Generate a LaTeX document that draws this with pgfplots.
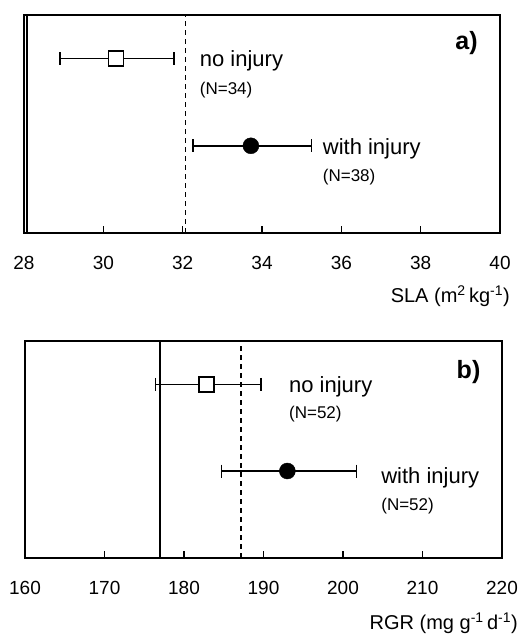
\documentclass[border=0pt]{standalone}
\usepackage{pgfplots}
\pgfplotsset{compat=1.18}
\usepackage{fontspec}
\setmainfont{Liberation Sans}
\tikzset{
  lab/.style={anchor=base west, inner sep=0pt, font=\fontsize{22}{26}\selectfont},
  nlab/.style={anchor=base west, inner sep=0pt, font=\fontsize{17}{20}\selectfont},
}
\begin{document}
\begin{tikzpicture}
\useasboundingbox (0pt,0pt) rectangle (521pt,637pt);
\pgfplotsset{
  panel/.style={
    scale only axis, anchor=south west,
    axis line style={line width=1.8pt},
    ymin=0, ymax=1, ytick=\empty,
    xtick pos=bottom, tick align=inside,
    major tick length=7pt,
    every tick/.style={line width=1.5pt, black},
    xticklabel style={font=\fontsize{19}{22}\selectfont, yshift=-20pt},
    /pgf/number format/assume math mode=true,
    clip=false,
  },
  eb/.style={line width=1.6pt, black, mark=|, mark size=6.5pt, mark options={line width=1.6pt, solid}},
}
% Panel a
\begin{axis}[panel, name=a, at={(24pt,404pt)}, width=476pt, height=218pt,
  xmin=28, xmax=40, xtick={28,30,...,40}]
\addplot[line width=1.5pt, black] coordinates {(28.08,0) (28.08,1)};
\addplot[line width=1.6pt, black, dash pattern=on 5pt off 4pt] coordinates {(32.07,0) (32.07,1)};
\addplot[eb] coordinates {(28.90,0.8) (31.78,0.8)};
\addplot[eb] coordinates {(32.26,0.4) (35.25,0.4)};
\addplot[only marks, mark=square*, mark size=7.5pt, mark options={fill=white, draw=black, line width=1.5pt, solid}]
  coordinates {(30.32,0.8)};
\addplot[only marks, mark=*, mark size=8pt, mark options={fill=black, draw=black, solid}]
  coordinates {(33.72,0.4)};
\node[lab] at (axis cs:32.43,0.763) {no injury};
\node[nlab] at (axis cs:32.43,0.633) {(N=34)};
\node[lab] at (axis cs:35.53,0.358) {with injury};
\node[nlab] at (axis cs:35.53,0.235) {(N=38)};
\node[anchor=base east, inner sep=0pt, font=\fontsize{25}{28}\selectfont\bfseries] at (axis cs:39.44,0.84) {a)};
\end{axis}
\node[anchor=base east, font=\fontsize{20}{23}\selectfont, inner sep=0pt] at ([xshift=10pt,yshift=-70pt]a.south east) {SLA (m\textsuperscript{2}\,kg\textsuperscript{-1})};
% Panel b
\begin{axis}[panel, name=b, at={(25pt,79.3pt)}, width=477pt, height=216.7pt,
  xmin=160, xmax=220, xtick={160,170,...,220}]
\addplot[line width=1.5pt, black] coordinates {(177.0,0) (177.0,1)};
\addplot[line width=1.6pt, black, dash pattern=on 5pt off 4pt] coordinates {(187.2,0) (187.2,1)};
\addplot[eb] coordinates {(176.4,0.8) (189.7,0.8)};
\addplot[eb] coordinates {(184.7,0.4) (201.7,0.4)};
\addplot[only marks, mark=square*, mark size=7.5pt, mark options={fill=white, draw=black, line width=1.5pt, solid}]
  coordinates {(182.85,0.8)};
\addplot[only marks, mark=*, mark size=8pt, mark options={fill=black, draw=black, solid}]
  coordinates {(193.0,0.4)};
\node[lab] at (axis cs:193.2,0.761) {no injury};
\node[nlab] at (axis cs:193.2,0.643) {(N=52)};
\node[lab] at (axis cs:204.8,0.343) {with injury};
\node[nlab] at (axis cs:204.8,0.22) {(N=52)};
\node[anchor=base east, inner sep=0pt, font=\fontsize{25}{28}\selectfont\bfseries] at (axis cs:217.3,0.828) {b)};
\end{axis}
\node[anchor=base east, font=\fontsize{20}{23}\selectfont, inner sep=0pt] at ([xshift=16pt,yshift=-72pt]b.south east) {RGR (mg g\textsuperscript{-1}\,d\textsuperscript{-1})};
\end{tikzpicture}
\end{document}
